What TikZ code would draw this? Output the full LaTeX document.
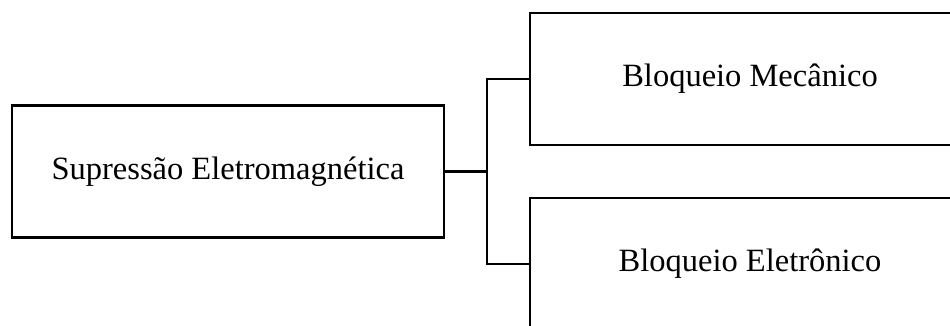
\documentclass[tikz,border=0pt]{standalone}
\usepackage{fontspec}
\setmainfont{Liberation Serif}
\begin{document}
\begin{tikzpicture}[x=1pt,y=-1pt,
  box/.style={draw=black,line width=2.2pt,rectangle,inner sep=0pt,font=\fontsize{32.5}{38}\selectfont},
  conn/.style={draw=black,line width=2.2pt}]
\useasboundingbox (0,0) rectangle (950,325);
\clip (0,0) rectangle (950,325);
\node[box,minimum width=432pt,minimum height=132pt] (src) at (228,171.5) {Supressão Eletromagnética};
\node[box,minimum width=440pt,minimum height=132pt] (mec) at (750,79) {Bloqueio Mecânico};
\node[box,minimum width=440pt,minimum height=132pt] (ele) at (750,264) {Bloqueio Eletrônico};
\coordinate (j) at (487,171.5);
\draw[conn] (src.east) -- (j);
\draw[conn] (mec.west) -| (j) |- (ele.west);
\end{tikzpicture}
\end{document}
